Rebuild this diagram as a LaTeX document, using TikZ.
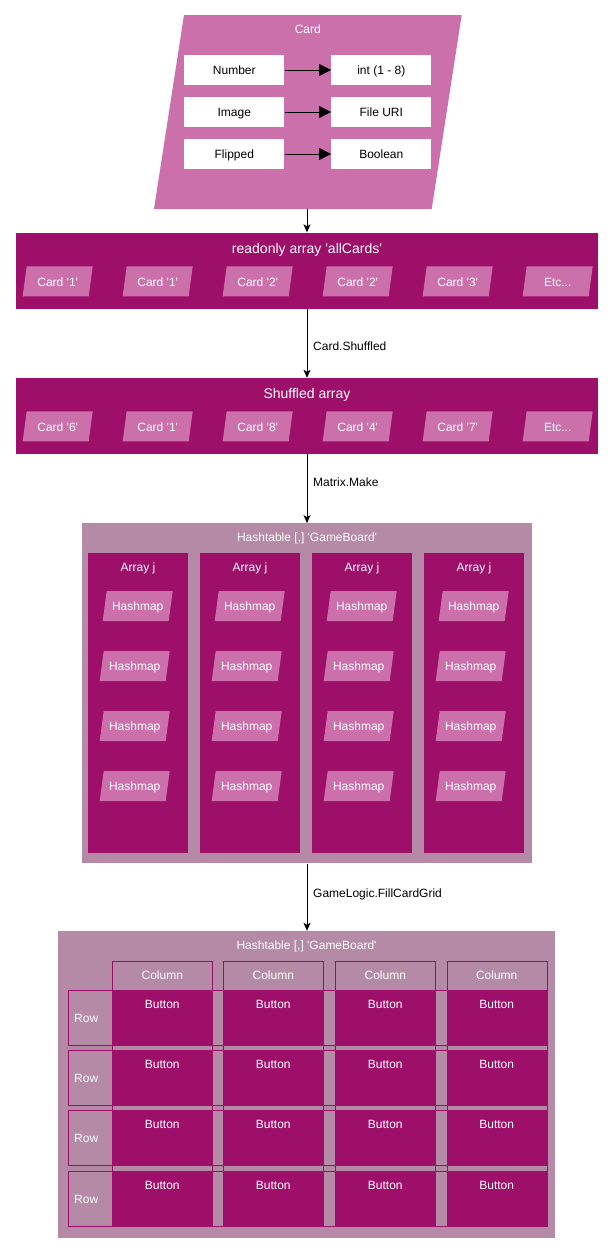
\documentclass[tikz,border=0pt]{standalone}
\usepackage{fontspec}
\setmainfont{Liberation Sans}
\usetikzlibrary{arrows.meta}
\definecolor{dk}{HTML}{9E0F69}
\definecolor{pk}{HTML}{CC70AC}
\definecolor{mv}{HTML}{B48AA6}
\newcommand\sq{\textquotesingle}
\newcommand\etcdots{Etc...}
\tikzset{
  txt/.style={font=\fontsize{12}{14}\selectfont, inner sep=0pt, text height=8.6pt, text depth=0pt},
  wtxt/.style={txt, text=white},
  big/.style={font=\fontsize{14}{16}\selectfont, inner sep=0pt, text=white, text height=10pt, text depth=0pt},
  wbox/.style={txt, fill=white, minimum width=100pt, minimum height=30pt},
  darkbox/.style={fill=dk, draw=none, inner sep=0pt},
  mvbox/.style={fill=mv, draw=none, inner sep=0pt},
  parafill/.style={fill=pk, draw=none},
  inarr/.style={line width=1pt, -{Triangle[length=12pt,width=12pt]}},
  mainarr/.style={line width=1pt, -{Stealth[length=8pt,width=7pt,inset=2pt]}},
  gridline/.style={draw=dk, line width=0.8pt, fill=none, inner sep=0pt},
}
% name, cx, cy, text : parallelogram 70 x 30 with slant 4
\newcommand\parabox[4]{%
  \fill[parafill] ({#2-35},{#3+15}) -- ({#2+31},{#3+15}) -- ({#2+35},{#3-15}) -- ({#2-31},{#3-15}) -- cycle;
  \node[wtxt] (#1) at ({#2},{#3+0.5}) {#4};}
\begin{document}
\begin{tikzpicture}[x=1pt,y=-1pt]
\useasboundingbox (0,0) rectangle (614,1254);
% ---------- Card ----------
\fill[parafill] (154,209) -- (431.7,209) -- (461.7,15) -- (184,15) -- cycle;
\coordinate (cardbot) at (307,209);
\node[wtxt] (cardt) at (307.8,29) {Card};
\node[wbox] (num) at (234.3,70) {Number};
\node[wbox] (numv) at (381.3,70) {int (1 - 8)};
\node[wbox] (img) at (234.3,112) {Image};
\node[wbox] (imgv) at (381.3,112) {File URI};
\node[wbox] (flp) at (234.3,154) {Flipped};
\node[wbox] (flpv) at (381.3,154) {Boolean};
\draw[inarr] (num) -- (numv);
\draw[inarr] (img) -- (imgv);
\draw[inarr] (flp) -- (flpv);
% ---------- readonly array ----------
\node[darkbox, minimum width=582pt, minimum height=76pt] (arr1) at (307,270.5) {};
\node[big] (arr1t) at (307,248.5) {readonly array \sq allCards\sq};
\foreach \i/\t in {0/Card \sq1\sq, 1/Card \sq1\sq, 2/Card \sq2\sq, 3/Card \sq2\sq, 4/Card \sq3\sq, 5/\etcdots}
  {\parabox{a1c\i}{57.7+100*\i}{281.3}{\t}}
% ---------- shuffled array ----------
\node[darkbox, minimum width=582pt, minimum height=76pt] (arr2) at (307,416) {};
\node[big] (arr2t) at (307,393.5) {Shuffled array};
\foreach \i/\t in {0/Card \sq6\sq, 1/Card \sq1\sq, 2/Card \sq8\sq, 3/Card \sq4\sq, 4/Card \sq7\sq, 5/\etcdots}
  {\parabox{a2c\i}{57.7+100*\i}{426.3}{\t}}
% ---------- Hashtable 1 ----------
\node[mvbox, minimum width=450pt, minimum height=340pt] (ht1) at (307,693.3) {};
\node[wtxt] (ht1t) at (307,537.5) {Hashtable [,] \sq GameBoard\sq};
\foreach \c in {0,1,2,3}{
  \node[darkbox, minimum width=100pt, minimum height=300pt] (col\c) at ({138+112*\c},703) {};
  \node[wtxt] (colt\c) at ({138+112*\c},567) {Array j};
  \parabox{hm\c0}{137.7+112*\c}{606}{Hashmap}
  \foreach \r in {1,2,3}
    {\parabox{hm\c\r}{134.7+112*\c}{606+60*\r}{Hashmap}}
}
% ---------- Hashtable 2 ----------
\node[mvbox, minimum width=497pt, minimum height=307pt] (ht2) at (306.5,1084.5) {};
\node[wtxt] (ht2t) at (306.5,945) {Hashtable [,] \sq GameBoard\sq};
\foreach \r/\y in {0/989.5,1/1049.5,2/1110,3/1170.5}{
  \node[gridline, minimum width=478.7pt, minimum height=55pt, anchor=north west] (row\r) at (68,\y) {};
  \node[wtxt, anchor=west] (rowt\r) at (74,{\y+28.3}) {Row};
}
\foreach \c/\x in {0/112.3,1/223.3,2/335.3,3/446.7}{
  \node[gridline, minimum width=100pt, minimum height=264pt, anchor=north west] (gc\c) at (\x,961.3) {};
  \node[wtxt] (gct\c) at ({\x+50},974.8) {Column};
  \foreach \r/\y in {0/989.5,1/1049.5,2/1110,3/1170.5}{
    \node[darkbox, minimum width=100pt, minimum height=55pt, anchor=north west] (b\r\c) at (\x,\y) {};
    \node[wtxt] (bt\r\c) at ({\x+50},{\y+14.2}) {Button};
  }
}
% ---------- main arrows ----------
\draw[mainarr] (cardbot) -- (cardbot |- arr1.north);
\draw[mainarr] (arr1.south) -- (arr2.north);
\draw[mainarr] (arr2.south) -- (arr2.south |- ht1.north);
\draw[mainarr] (ht1.south) -- (ht1.south |- ht2.north);
\node[txt, anchor=west, text=black] (l1) at (313,346.5) {Card.Shuffled};
\node[txt, anchor=west, text=black] (l2) at (313,482.5) {Matrix.Make};
\node[txt, anchor=west, text=black] (l3) at (313,893.2) {GameLogic.FillCardGrid};
\end{tikzpicture}
\end{document}
